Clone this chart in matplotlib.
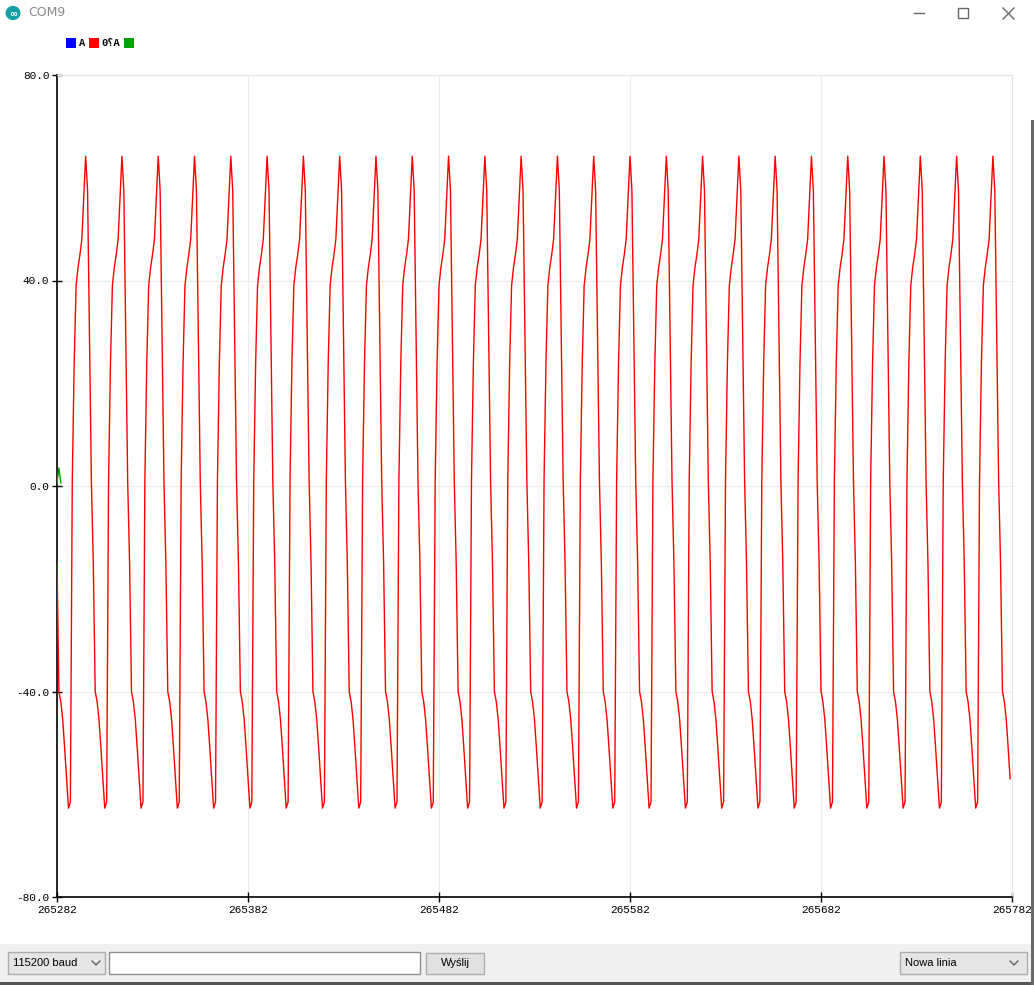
import matplotlib
matplotlib.use("Agg")
import matplotlib.pyplot as plt
from matplotlib.patches import Rectangle, Circle
from matplotlib.lines import Line2D
import numpy as np

W, H = 1034, 985

X_START = 265282
N_SAMPLES = 500
X_TICKS = [265282, 265382, 265482, 265582, 265682, 265782]
Y_TICKS = [-80, -40, 0, 40, 80]
# one period of the red trace (19 samples, starting at the peak)
CYCLE_A0 = [64.2, 57.5, 29.0, 1.0, -15.0, -40.0, -42.0, -45.5, -51.0, -57.0,
            -62.7, -61.5, 1.0, 24.0, 39.0, 42.5, 45.0, 48.0, 56.0]
PHASE = 4          # first sample sits 4 steps after a peak
GREEN = [0.6, 3.5, 0.6]
LEG_COLORS = ["#0000ff", "#ff0000", "#00a000"]
LEG_LABELS = ["A", "0؟A", ""]

MONO = ["Liberation Mono", "DejaVu Sans Mono"]


def fx(x):
    return x / W


def fy(y):
    return 1 - y / H


def rect(fig, x0, y0, x1, y1, fc, ec="none", lw=1.0, z=1):
    fig.add_artist(Rectangle((fx(x0), fy(y1)), (x1 - x0) / W, (y1 - y0) / H,
                             transform=fig.transFigure, facecolor=fc,
                             edgecolor=ec, linewidth=lw, zorder=z))


def line(fig, xs, ys, color, lw=1.0, z=5):
    fig.add_artist(Line2D([fx(v) for v in xs], [fy(v) for v in ys],
                          transform=fig.transFigure, color=color, lw=lw, zorder=z))


fig = plt.figure(figsize=(W / 100, H / 100), dpi=100)
fig.patch.set_facecolor("white")

ax = fig.add_axes([fx(57), fy(897), 955 / W, 822 / H])
n_rep = (N_SAMPLES + PHASE) // len(CYCLE_A0) + 2
a0 = np.tile(CYCLE_A0, n_rep)[PHASE:PHASE + N_SAMPLES]
xs = X_START + np.arange(N_SAMPLES)
ax.plot(xs, a0, color="#ff0000", lw=1.0, zorder=3)
ax.plot(xs[:len(GREEN)], GREEN, color="#00a000", lw=1.0, zorder=4)

ax.set_xlim(X_TICKS[0], X_TICKS[-1])
ax.set_ylim(Y_TICKS[0], Y_TICKS[-1])
ax.set_xticks(X_TICKS)
ax.set_xticklabels([str(t) for t in X_TICKS])
ax.set_yticks(Y_TICKS)
ax.set_yticklabels([f"{t:.1f}" for t in Y_TICKS])
ax.grid(color="#ececec", lw=0.8)
ax.set_axisbelow(True)
for s in ("top", "right"):
    ax.spines[s].set_color("#e4e4e4")
    ax.spines[s].set_linewidth(0.8)
for s in ("left", "bottom"):
    ax.spines[s].set_color("black")
    ax.spines[s].set_linewidth(1.2)
ax.tick_params(direction="inout", length=7, width=1, color="black",
               labelsize=8, pad=2)
for lab in ax.get_xticklabels() + ax.get_yticklabels():
    lab.set_fontfamily(MONO)

# legend squares along the top
lx = 66
for col, lab in zip(LEG_COLORS, LEG_LABELS):
    rect(fig, lx, 38, lx + 10, 48, col, z=6)
    lx += 13
    if lab:
        fig.text(fx(lx), fy(43.5), lab, fontsize=7.5, family=MONO,
                 fontweight="bold", va="center", ha="left")
        lx += 6.5 * len(lab) + 3

# title bar
fig.add_artist(Circle((fx(13), fy(13)), 7.5 / W, transform=fig.transFigure,
                      facecolor="#17a1a5", edgecolor="none", zorder=6))
fig.text(fx(13), fy(13.5), "∞", color="white", fontsize=7, ha="center",
         va="center", fontweight="bold", zorder=7)
fig.text(fx(28), fy(13), "COM9", color="#8a8a8a", fontsize=9,
         family="DejaVu Sans", va="center")
line(fig, [914, 924], [13, 13], "#666666")
rect(fig, 958, 8, 968, 18, "none", ec="#666666", lw=1, z=6)
line(fig, [1003, 1014], [8, 19], "#666666")
line(fig, [1003, 1014], [19, 8], "#666666")

# bottom toolbar
rect(fig, 0, 944, W, 985, "#f0f0f0", z=2)
rect(fig, 8, 952, 105, 974, "#e5e5e5", ec="#adadad", z=3)
fig.text(fx(13), fy(963), "115200 baud", fontsize=8, family="Liberation Sans",
         va="center", zorder=4)
line(fig, [92, 96, 100], [961, 965, 961], "#555555", lw=0.9)
rect(fig, 109, 952, 420, 974, "white", ec="#8f8f8f", z=3)
rect(fig, 426, 953, 484, 974, "#e1e1e1", ec="#adadad", z=3)
fig.text(fx(455), fy(963.5), "Wyślij", fontsize=8, family="Liberation Sans",
         ha="center", va="center", zorder=4)
rect(fig, 900, 952, 1027, 974, "#e5e5e5", ec="#adadad", z=3)
fig.text(fx(905), fy(963), "Nowa linia", fontsize=8, family="Liberation Sans",
         va="center", zorder=4)
line(fig, [1010, 1014, 1018], [961, 965, 961], "#555555", lw=0.9)
rect(fig, 0, 982, W, 985, "#555555", z=7)
rect(fig, 1031, 120, W, 985, "#6a6a6a", z=7)

fig.savefig("out.png", dpi=100, facecolor="white")
